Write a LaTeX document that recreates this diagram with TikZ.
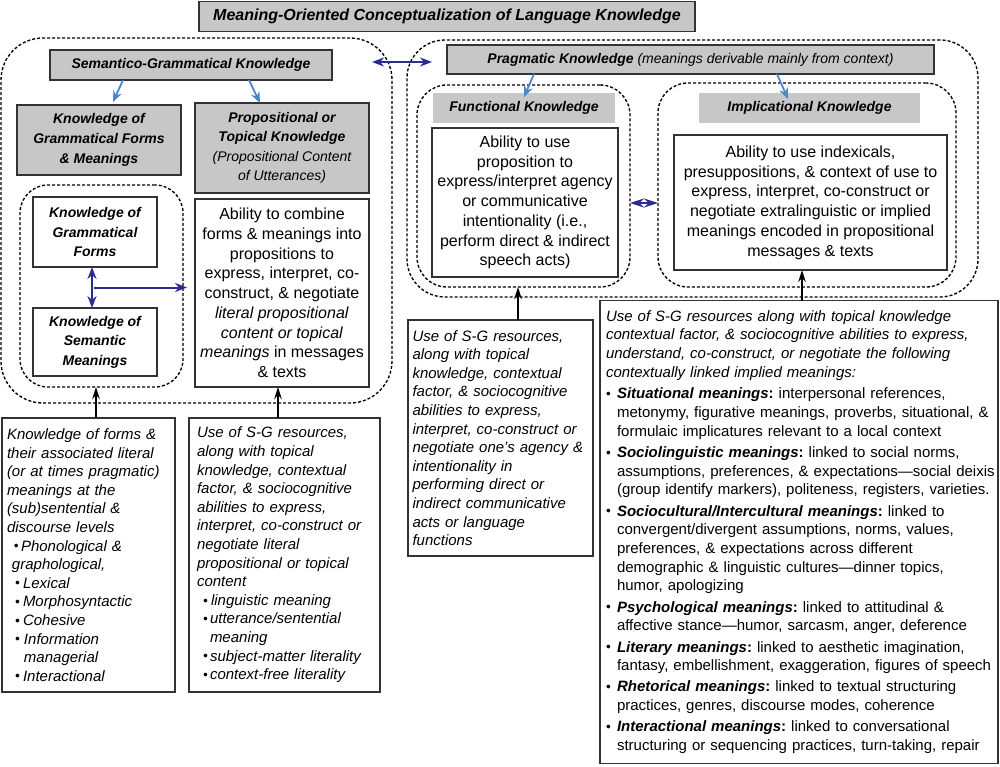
\documentclass[tikz,border=0pt]{standalone}
\usepackage{fontspec}
\setmainfont{Liberation Sans}
\usetikzlibrary{arrows.meta,calc}
\definecolor{boxgray}{HTML}{C7C7C7}
\definecolor{edgegray}{HTML}{333333}
\definecolor{lblue}{HTML}{4A86C8}
\definecolor{navyb}{HTML}{2B2B90}
\newcommand\blt{\raisebox{0.02em}{\scalebox{0.9}{•}}}
\newcommand\fsz[2]{\fontsize{#1}{#2}\selectfont}
\newcommand\contl[1]{\hspace*{16pt}\mbox{#1}}
\newcommand\itemhd[2]{\hspace*{5pt}\makebox[11pt][l]{\blt}\mbox{\textbf{\textit{#1}:} #2}}
\frenchspacing
\begin{document}
\begin{tikzpicture}[x=1pt,y=-1pt,
  every node/.style={inner sep=0pt,outer sep=0pt},
  sz/.style 2 args={minimum width=#1pt,minimum height=#2pt},
  container/.style={draw=black,line width=1.35pt,dash pattern=on 3pt off 2pt,rounded corners=#1},
  graybox/.style={draw=edgegray,line width=1.7pt,fill=boxgray,align=center,font=\bfseries\itshape\fsz{14}{19.5}},
  headbox/.style={fill=boxgray,align=center,font=\bfseries\itshape\fsz{14}{19}},
  wbox/.style={draw=edgegray,line width=1.7pt,fill=white,align=center,font=\bfseries\itshape\fsz{14}{19.5}},
  abilbox/.style={draw=edgegray,line width=1.7pt,fill=white,align=center,font=\fsz{16}{19.75}},
  textbox/.style={draw=edgegray,line width=1.7pt,fill=white,align=left,font=\itshape\fsz{15}{18.6}},
  bluearr/.style={draw=lblue,line width=1.8pt,-{Stealth[length=11pt,width=9pt]}},
  navyarr/.style={draw=navyb,line width=2pt,-{Stealth[length=12pt,width=9pt]}},
  navydbl/.style={draw=navyb,line width=2pt,{Stealth[length=12pt,width=9pt]}-{Stealth[length=12pt,width=9pt]}},
  blkarr/.style={draw=black,line width=1.6pt,-{Stealth[length=12pt,width=7.5pt]}}
]
\useasboundingbox (0,0) rectangle (1000,767);

% dashed containers
\node[container=42,sz={391}{365}] (lc) at (196.5,220.5) {};
\node[container=28,sz={163}{202}] (ic) at (101.5,286) {};
\node[container=38,sz={571}{257}] (rc) at (692.5,168.5) {};
\node[container=30,sz={213}{202}] (fc) at (523.5,186) {};
\node[container=30,sz={298}{204}] (imc) at (807,185) {};

% title
\node[graybox,font=\bfseries\itshape\fsz{16}{20},sz={496}{30}] (title) at (447,16.5) {Meaning-Oriented Conceptualization of Language Knowledge};

% left part
\node[graybox,sz={282}{30}] (sg) at (191,65) {Semantico-Grammatical Knowledge};
\node[graybox,font=\bfseries\itshape\fsz{14}{20},sz={164}{70}] (kgfm) at (99,140) {Knowledge of\\Grammatical Forms\\\& Meanings};
\node[graybox,sz={174}{90}] (prop) at (282,148) {Propositional or\\Topical Knowledge\\{\mdseries (Propositional Content}\\{\mdseries of Utterances)}};
\node[wbox,sz={124}{70}] (kgf) at (95,232) {Knowledge of\\Grammatical\\Forms};
\node[wbox,sz={124}{68}] (ksm) at (95,342) {Knowledge of\\Semantic\\Meanings};
\node[abilbox,sz={174}{188}] (abil) at (282,293) {Ability to combine\\forms \& meanings into\\propositions to\\express, interpret, co-\\construct, \& negotiate\\\textit{literal propositional}\\\textit{content or topical}\\\textit{meanings} in messages\\\& texts};

% right part
\node[graybox,font=\fsz{14}{18},sz={487}{29}] (prag) at (690.5,59.5) {\textbf{\textit{Pragmatic Knowledge}} \textit{(meanings derivable mainly from context)}};
\node[headbox,sz={182}{30}] (fk) at (524,108) {Functional Knowledge};
\node[headbox,sz={221}{30}] (ik) at (809.5,108) {Implicational Knowledge};
\node[abilbox,sz={186}{149}] (ftext) at (525,202.5) {Ability to use\\proposition to\\express/interpret agency\\or communicative\\intentionality (i.e.,\\perform direct \& indirect\\speech acts)};
\node[abilbox,sz={273}{135}] (itext) at (810.5,202.5) {Ability to use indexicals,\\presuppositions, \& context of use to\\express, interpret, co-construct or\\negotiate extralinguistic or implied\\meanings encoded in propositional\\messages \& texts};

% bottom boxes
\node[textbox,sz={173}{274},text width=163pt] (bl) at (88.5,555) {Knowledge of forms \&\\their associated literal\\(or at times pragmatic)\\meanings at the\\(sub)sentential \&\\discourse levels\\
\hspace*{7pt}\makebox[7pt][l]{\blt}Phonological \&\\
\hspace*{5pt}graphological,\\
\hspace*{8pt}\makebox[8pt][l]{\blt}Lexical\\
\hspace*{8pt}\makebox[8pt][l]{\blt}Morphosyntactic\\
\hspace*{8pt}\makebox[8pt][l]{\blt}Cohesive\\
\hspace*{8pt}\makebox[9pt][l]{\blt}Information\\
\hspace*{17pt}managerial\\
\hspace*{8pt}\makebox[8pt][l]{\blt}Interactional};

\node[textbox,sz={191}{274},text width=175pt] (bm) at (284.5,555) {Use of S-G resources,\\along with topical\\knowledge, contextual\\factor, \& sociocognitive\\abilities to express,\\interpret, co-construct or\\negotiate literal\\propositional or topical\\content\\
\hspace*{6pt}\makebox[8pt][l]{\blt}linguistic meaning\\
\hspace*{6pt}\makebox[7pt][l]{\blt}utterance/sentential\\
\hspace*{13pt}meaning\\
\hspace*{6pt}\makebox[7pt][l]{\blt}subject-matter literality\\
\hspace*{6pt}\makebox[7pt][l]{\blt}context-free literality};

\node[textbox,sz={185}{236},text width=176pt] (mb) at (500.5,438) {Use of S-G resources,\\along with topical\\knowledge, contextual\\factor, \& sociocognitive\\abilities to express,\\interpret, co-construct or\\negotiate one’s agency \&\\intentionality in\\performing direct or\\indirect communicative\\acts or language\\functions};

\node[textbox,font=\fsz{15}{18.7},sz={398}{463},text width=396pt] (rb) at (799,532) {\hspace*{5pt}\textit{Use of S-G resources along with topical knowledge}\\\hspace*{5pt}\textit{contextual factor, \& sociocognitive abilities to express,}\\\hspace*{5pt}\textit{understand, co-construct, or negotiate the following}\\\hspace*{5pt}\textit{contextually linked implied meanings:}\\[3pt]
\itemhd{Situational meanings}{interpersonal references,}\\
\contl{metonymy, figurative meanings, proverbs, situational, \&}\\
\contl{formulaic implicatures relevant to a local context}\\[2.5pt]
\itemhd{Sociolinguistic meanings}{linked to social norms,}\\
\contl{assumptions, preferences, \& expectations—social deixis}\\
\contl{(group identify markers), politeness, registers, varieties.}\\[2.5pt]
\itemhd{Sociocultural/Intercultural meanings}{linked to}\\
\contl{convergent/divergent assumptions, norms, values,}\\
\contl{preferences, \& expectations across different}\\
\contl{demographic \& linguistic cultures—dinner topics,}\\
\contl{humor, apologizing}\\[2.5pt]
\itemhd{Psychological meanings}{linked to attitudinal \&}\\
\contl{affective stance—humor, sarcasm, anger, deference}\\[2.5pt]
\itemhd{Literary meanings}{linked to aesthetic imagination,}\\
\contl{fantasy, embellishment, exaggeration, figures of speech}\\[2.5pt]
\itemhd{Rhetorical meanings}{linked to textual structuring}\\
\contl{practices, genres, discourse modes, coherence}\\[2.5pt]
\itemhd{Interactional meanings}{linked to conversational}\\
\contl{structuring or sequencing practices, turn-taking, repair}};

% blue arrows
\draw[bluearr] ([xshift=-68pt]sg.south) -- ([xshift=14pt,yshift=3pt]kgfm.north);
\draw[bluearr] ([xshift=58pt]sg.south) -- ([xshift=-22pt]prop.north);
\draw[bluearr] ([xshift=-156.5pt]prag.south) -- ([yshift=-4pt]fk.north);
\draw[bluearr] ([xshift=86.5pt]prag.south) -- ([xshift=-21.5pt,yshift=-6pt]ik.north);

% navy arrows
\draw[navydbl] ([xshift=-3pt]kgf.south) -- ([xshift=-3pt]ksm.north);
\coordinate (kmid) at ($([xshift=-3pt]kgf.south)!0.5!([xshift=-3pt]ksm.north)$);
\draw[navyarr,shorten >=8pt] ([xshift=2pt]kmid) -- (kmid -| abil.west);
\draw[navydbl] ([xshift=-75pt,yshift=-2.5pt]prag.west) -- ([xshift=-15pt,yshift=-2.5pt]prag.west);
\draw[draw=navyb,line width=1.6pt,{Stealth[length=14pt,width=9pt]}-{Stealth[length=14pt,width=9pt]}] ([yshift=-17pt]fc.east) -- ([yshift=-17pt]fc.east -| imc.west);

% black arrows
\draw[blkarr] ([xshift=7.5pt]bl.north) -- ([xshift=7.5pt]bl.north |- ic.south);
\draw[blkarr] ([xshift=-6.5pt]bm.north) -- ([xshift=-6.5pt]bm.north |- abil.south);
\draw[blkarr] ([xshift=17.5pt]mb.north) -- ([xshift=17.5pt]mb.north |- fc.south);
\draw[blkarr] ([xshift=3pt]rb.north) -- ([xshift=3pt]rb.north |- itext.south);
\end{tikzpicture}
\end{document}
